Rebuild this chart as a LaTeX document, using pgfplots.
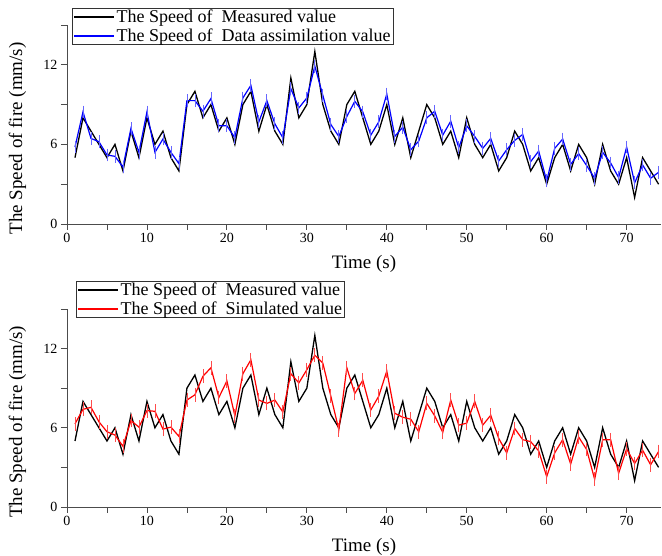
\documentclass[border=0pt]{standalone}
\usepackage{pgfplots}
\usepackage{pgfplotstable}
\pgfplotsset{compat=1.18}
\usepackage{fontspec}
\setmainfont{Liberation Serif}
\definecolor{lineblue}{RGB}{0,0,255}
\definecolor{linered}{RGB}{255,0,0}

\pgfplotstableread{
t  meas assim sim
1  5    5.8   6.3
2  8    8.45  7.4
3  7    6.45  7.55
4  6    6.2   6.45
5  5    5.2   5.7
6  6    5.1   5.45
7  4    4.3   4.6
8  7    7.2   6.55
9  5    5.4   6.05
10 8    8.45  7.3
11 6    5.4   7.25
12 7    6.4   5.9
13 5    5.4   6.05
14 4    4.55  5.35
15 9    9.3   8.1
16 10   9.3   8.5
17 8    8.5   9.9
18 9    9.45  10.55
19 7    7.4   8.3
20 8    7.4   9.55
21 6    6.5   6.9
22 9    9.5   10.1
23 10   10.45 11.15
24 7    7.7   8.1
25 9    9.3   7.85
26 7    7.55  8.1
27 6    6.5   7.2
28 11   10.2  10.1
29 8    8.75  9.4
30 9    9.5   10.4
31 13   11.9  11.5
32 9    9.7   10.9
33 7    7.5   8.4
34 6    6.6   5.85
35 9    8.1   10.55
36 10   9.25  8.6
37 8    8.45  9.6
38 6    6.7   7.35
39 7    7.7   8.4
40 9    9.8   10.3
41 6    6.6   7.1
42 8    7.3   6.8
43 5    5.6   6.65
44 7    6.25  5.7
45 9    8.0   7.85
46 8    8.5   6.9
47 6    6.7   5.65
48 7    7.75  8.1
49 5    5.75  6.2
50 8    7.4   6.35
51 6    6.6   8.0
52 5    5.7   6.2
53 6    6.45  6.95
54 4    4.75  5.2
55 5    5.6   4.1
56 7    6.3   5.95
57 6    6.75  5.1
58 4    4.7   4.95
59 5    5.5   4.25
60 3    3.25  2.3
61 5    5.7   4.1
62 6    6.4   5.1
63 4    4.5   3.25
64 6    5.3   5.3
65 5    4.4   4.35
66 3    3.45  2.1
67 6    5.4   5.1
68 4    4.6   5.1
69 3    3.5   2.55
70 5    5.8   4.4
71 2    3.1   3.3
72 5    4.45  4.3
73 4    3.45  3.2
74 3    3.9   4.2
}\speeddata

\pgfplotsset{
  legline/.style={legend image code/.code={%
    \path[draw=#1, line width=2pt] (0pt,0pt) -- (40pt,0pt);}},
  speedaxis/.style={
    scale only axis,
    width=594pt,
    xmin=0, xmax=74.3,
    ymin=0, ymax=15,
    axis lines=left,
    axis line style={-, black!70, line width=0.8pt},
    tick align=outside,
    tick style={black!70, line width=0.8pt},
    major tick length=6pt,
    minor tick length=6pt,
    xtick={0,10,...,70},
    minor xtick={5,15,...,75},
    ytick={0,6,12},
    minor ytick={3,9,15},
    tick label style={font=\fontsize{14}{16}\selectfont},
    /pgf/number format/assume math mode=true,
    xlabel={Time (s)},
    ylabel={The Speed of fire (mm/s)},
    every axis x label/.style={at={(axis description cs:0.5,0)}, yshift=-39.5pt,
      anchor=center, font=\fontsize{19}{21}\selectfont},
    every axis y label/.style={at={(axis description cs:0,0.43)}, xshift=-49.5pt,
      rotate=90, anchor=center, font=\fontsize{19}{21}\selectfont},
    clip=false,
    legend cell align=left,
    legend style={draw=black!80, fill=white,
      font=\fontsize{18}{20}\selectfont, anchor=north west,
      inner xsep=1pt, inner ysep=0.5pt, row sep=1pt,
      nodes={inner sep=1.5pt}},
  },
}

\begin{document}
\begin{tikzpicture}
\useasboundingbox (-67pt,-332pt) rectangle (595pt,224pt);

\begin{axis}[speedaxis, height=199pt,
  legend style={at={(axis description cs:0.0084,1.085)}}]
  \addplot[black, line width=1.3pt, mark=none, legline=black] table[x=t, y=meas] {\speeddata};
  \addlegendentry{The Speed of~ Measured value}
  \addplot[lineblue, line width=1.2pt, mark=none, legline=lineblue,
    error bars/.cd, y dir=both, y fixed=0.18,
    error bar style={lineblue!60, line width=0.8pt},
    error mark options={lineblue!60, mark size=4pt, line width=0.8pt}]
    table[x=t, y=assim] {\speeddata};
  \addlegendentry{The Speed of~ Data assimilation value}
\end{axis}

\begin{axis}[speedaxis, height=198pt, at={(0pt,-283pt)},
  legend style={at={(axis description cs:0.015,1.141)}}]
  \addplot[black, line width=1.3pt, mark=none, legline=black] table[x=t, y=meas] {\speeddata};
  \addlegendentry{The Speed of~ Measured value}
  \addplot[linered, line width=1.2pt, mark=none, legline=linered,
    error bars/.cd, y dir=both, y fixed=0.22,
    error bar style={linered!70, line width=0.8pt},
    error mark options={linered!70, mark size=4pt, line width=0.8pt}]
    table[x=t, y=sim] {\speeddata};
  \addlegendentry{The Speed of~ Simulated value}
\end{axis}
\end{tikzpicture}
\end{document}
